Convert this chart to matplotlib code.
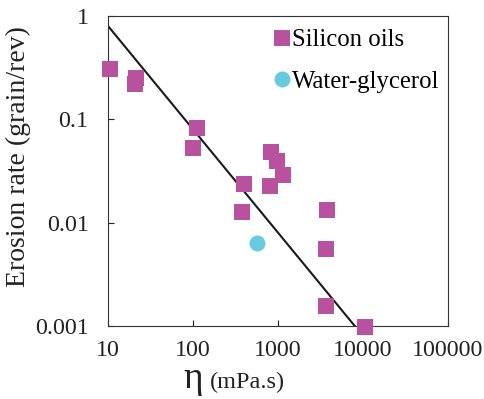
import matplotlib.pyplot as plt
import numpy as np
from matplotlib.ticker import FixedLocator, FixedFormatter, NullLocator

plt.rcParams['font.family'] = ['Liberation Serif', 'DejaVu Serif']

# silicon oils: viscosity (mPa.s) and erosion rate (grain/rev)
oil_eta = np.array([10.6, 21.2, 20.8, 112, 101, 398, 377, 828, 982, 1135, 813, 3740, 3670, 3700, 10570])
oil_rate = np.array([0.305, 0.249, 0.22, 0.0818, 0.0524, 0.0235, 0.0128, 0.0486, 0.0398, 0.0287, 0.0226, 0.0132, 0.0055, 0.00156, 0.00098])

# water-glycerol
wg_eta = np.array([561])
wg_rate = np.array([0.0064])

# fitted line endpoints
fit_eta = np.array([10, 8000])
fit_rate = np.array([0.8, 0.001])

xticks = [10, 100, 1000, 10000, 100000]
xlabels = ["10", "100", "1000", "10000", "100000"]
yticks = [0.001, 0.01, 0.1, 1]
ylabels = ["0.001", "0.01", "0.1", "1"]

fig = plt.figure(figsize=(4.85, 3.99), dpi=100)
ax = fig.add_axes([0.2227, 0.183, 0.701, 0.777])

ax.plot(fit_eta, fit_rate, color="#1a1a1a", lw=1.5, zorder=2)
ax.plot(oil_eta, oil_rate, "s", color="#B9529E", ms=12, mew=0, clip_on=False, zorder=3, label="Silicon oils")
ax.plot(wg_eta, wg_rate, "o", color="#66CCDD", ms=11.5, mew=0, clip_on=False, zorder=3, label="Water-glycerol")

ax.set_xscale("log")
ax.set_yscale("log")
ax.set_xlim(10, 100000)
ax.set_ylim(0.001, 1)

ax.xaxis.set_major_locator(FixedLocator(xticks))
ax.xaxis.set_major_formatter(FixedFormatter(xlabels))
ax.yaxis.set_major_locator(FixedLocator(yticks))
ax.yaxis.set_major_formatter(FixedFormatter(ylabels))
ax.xaxis.set_minor_locator(NullLocator())
ax.yaxis.set_minor_locator(NullLocator())

ax.tick_params(axis="both", direction="in", length=4, width=0.8, labelsize=17.3, colors="#222222")
ax.tick_params(axis="x", pad=10)
ax.tick_params(axis="y", pad=14)
for s in ax.spines.values():
    s.set_linewidth(0.8)
    s.set_color("#333333")

ax.set_ylabel("Erosion rate (grain/rev)", fontsize=20, color="#222222")
ax.yaxis.set_label_coords(-0.226, 0.547)
ax.text(0.25, -0.2, "η", transform=ax.transAxes, fontsize=27, ha="center", va="baseline", color="#222222")
ax.text(0.30, -0.2, "(mPa.s)", transform=ax.transAxes, fontsize=17.5, ha="left", va="baseline", color="#222222")

ax.legend(loc="upper left", bbox_to_anchor=(0.462, 0.99), frameon=False, fontsize=17.8,
          handlelength=0.6, handletextpad=0.1, labelspacing=0.78, borderaxespad=0)

fig.savefig("out.png", dpi=100)
